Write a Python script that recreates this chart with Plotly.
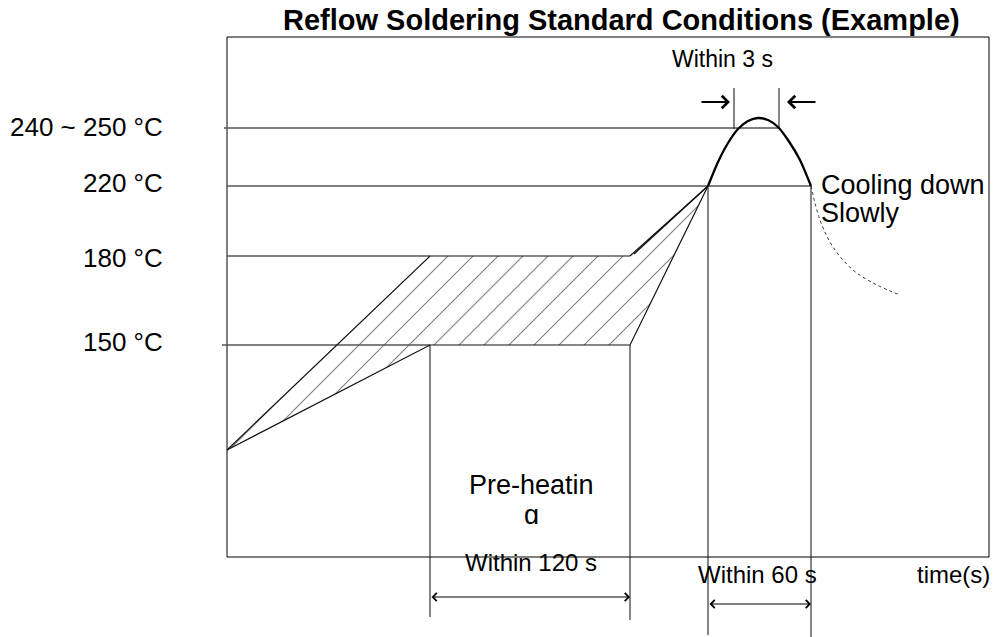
import plotly.graph_objects as go

# ---------------- data (schematic diagram units: time 0..762 across the frame, level 0..520 up the frame)
frame_t = [0, 762]
frame_y = [0, 520]

level_labels = ["240 ~ 250 °C", "220 °C", "180 °C", "150 °C"]
level_y = [429, 371, 301, 212]          # 250, 220, 180, 150 °C levels
level_label_y = [430, 374, 299, 215]

start_t, start_y = 0, 107
preheat_t = [203, 403]                  # pre-heating start / end
reflow_t = [481, 584]                   # above 220 °C start / end
peak_window_t = [507, 552]              # "within 3 s" window

peak_t = [481, 491, 501, 511, 521, 531, 541, 551, 561, 573, 584]
peak_y = [371, 395, 414, 428, 436, 439, 437, 430, 417, 397, 371]

cool_t = [584, 593, 606, 626, 650, 673]
cool_y = [371, 337, 310, 287, 272, 262]

FONT = "Liberation Sans, Arial, sans-serif"
y250, y220, y180, y150 = level_y

fig = go.Figure()

# hatched pre-heating band (diagonal tile is size*sqrt(2) wide -> 25 px horizontal spacing)
fig.add_trace(go.Scatter(
    x=[start_t, preheat_t[0], preheat_t[1], reflow_t[0], preheat_t[1], preheat_t[0], start_t],
    y=[start_y, y180, y180, y220, y150, y150, start_y],
    mode="lines", line=dict(width=0), fill="toself", fillcolor="rgba(0,0,0,0)",
    fillpattern=dict(shape="/", size=25 / 2 ** 0.5, solidity=0.06, fgcolor="#000",
                     bgcolor="rgba(0,0,0,0)"),
    hoverinfo="skip"))

# frame
fig.add_trace(go.Scatter(
    x=[frame_t[0], frame_t[1], frame_t[1], frame_t[0], frame_t[0]],
    y=[frame_y[0], frame_y[0], frame_y[1], frame_y[1], frame_y[0]],
    mode="lines", line=dict(color="#000", width=1), hoverinfo="skip"))

# guide lines (temperature levels)
fig.add_trace(go.Scatter(
    x=[-3, peak_window_t[1], None, 0, reflow_t[1], None, 0, preheat_t[0], None, -5, preheat_t[0]],
    y=[y250, y250, None, y220, y220, None, y180, y180, None, y150, y150],
    mode="lines", line=dict(color="#555", width=1.3), hoverinfo="skip"))

# vertical time markers
fig.add_trace(go.Scatter(
    x=[preheat_t[0], preheat_t[0], None, preheat_t[1], preheat_t[1], None,
       reflow_t[0], reflow_t[0], None, reflow_t[1], reflow_t[1], None,
       peak_window_t[0], peak_window_t[0], None, peak_window_t[1], peak_window_t[1]],
    y=[y150, -60, None, y150, -63, None, y220, -78, None, y220, -80, None,
       428, 469, None, 428, 469],
    mode="lines", line=dict(color="#222", width=1.1), hoverinfo="skip"))

# profile envelope
fig.add_trace(go.Scatter(
    x=[start_t, preheat_t[0], preheat_t[1], None,
       start_t, preheat_t[0], preheat_t[1], reflow_t[0], None,
       preheat_t[1], reflow_t[0], None, preheat_t[1] + 4, reflow_t[0]],
    y=[start_y, y180, y180, None,
       start_y, y150, y150, y220, None,
       y180, y220, None, y180 + 2, y220],
    mode="lines", line=dict(color="#111", width=1.2), hoverinfo="skip"))

# peak
fig.add_trace(go.Scatter(x=peak_t, y=peak_y, mode="lines",
                         line=dict(color="#000", width=2.3, shape="spline", smoothing=0.6),
                         hoverinfo="skip"))
# slow cooling
fig.add_trace(go.Scatter(x=cool_t, y=cool_y, mode="lines",
                         line=dict(color="#333", width=1, dash="dot", shape="spline"), hoverinfo="skip"))

ann = []
def txt(text, x, y, size, xanchor="center", bold=False, **kw):
    ann.append(dict(text=("<b>%s</b>" % text) if bold else text, x=x, y=y, xref="x", yref="y",
                    showarrow=False, xanchor=xanchor, yanchor=kw.pop("yanchor", "middle"),
                    font=dict(family=FONT, size=size, color="#000"), **kw))

txt("Reflow Soldering Standard Conditions (Example)", 394, 537, 29, bold=True)
for lab, ly in zip(level_labels, level_label_y):
    txt(lab, -62, ly, 26, xanchor="right")
txt("Within 3 s", 495, 498, 23)
txt("Cooling down", 592, 372, 27, xanchor="left")
txt("Slowly", 592, 344, 27, xanchor="left")
txt("Pre-heatin", 304, 72, 27)
txt("g", 304, 59, 27, yanchor="top", height=24, valign="top")
txt("Within 120 s", 304, -5, 24)
txt("Within 60 s", 530, -17, 24)
txt("time(s)", 726, -17, 24)

def arrow(x0, x1, y, width, size, both=False):
    a = dict(x=x1, y=y, ax=x0, ay=y, xref="x", yref="y", axref="x", ayref="y", text="",
             showarrow=True, arrowhead=4, arrowsize=size, arrowwidth=width, arrowcolor="#000",
             standoff=0, startstandoff=0)
    if both:
        a.update(arrowside="end+start", startarrowhead=4, startarrowsize=size)
    ann.append(a)

arrow(preheat_t[0], preheat_t[1], -40, 1.2, 1.3, both=True)
arrow(reflow_t[0], reflow_t[1], -47, 1.2, 1.3, both=True)
arrow(473, 503, 455, 2.2, 1.1)
arrow(590, 560, 455, 2.2, 1.1)

fig.update_layout(
    width=993, height=637, margin=dict(l=4, r=0, t=0, b=0, pad=0),
    paper_bgcolor="white", plot_bgcolor="white", showlegend=False,
    xaxis=dict(range=[-223, 766], visible=False, fixedrange=True),
    yaxis=dict(range=[-80, 557], visible=False, fixedrange=True),
    annotations=ann,
)
# let the 993x637 figure fill the window (no default body margin)
fig.write_html("out.html", config={"displayModeBar": False},
               post_script="document.body.style.margin='0';")
